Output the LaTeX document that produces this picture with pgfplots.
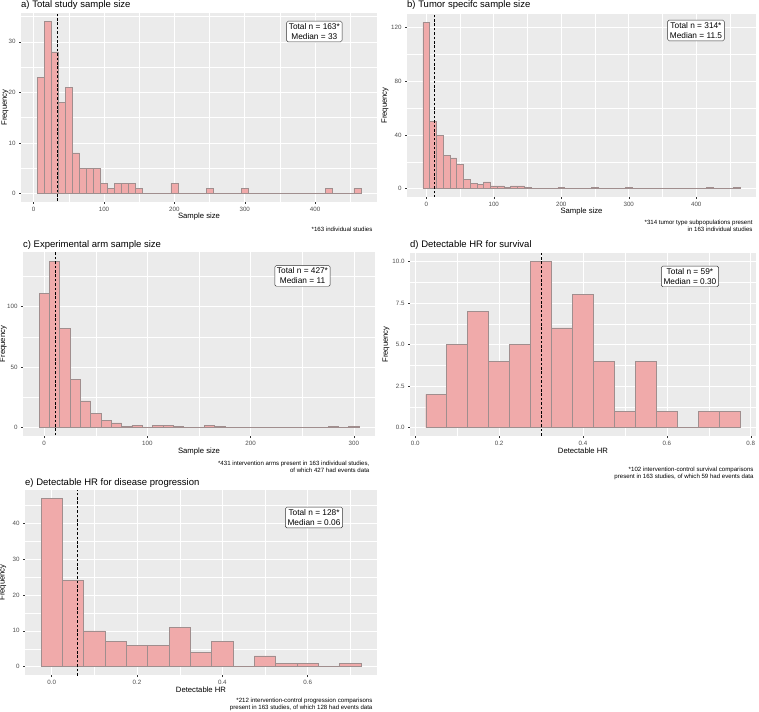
\documentclass[border=0pt]{standalone}
\usepackage{fontspec}
\setmainfont{Liberation Sans}
\usepackage{pgfplots}
\pgfplotsset{compat=1.18}
\definecolor{ggbg}{HTML}{EBEBEB}
\definecolor{ggfill}{HTML}{F0AAAA}
\definecolor{ggline}{HTML}{A08E8E}
\definecolor{ggtick}{HTML}{333333}
\definecolor{ggtext}{HTML}{4D4D4D}
\tikzset{
  boxlab/.style={draw=ggtick, fill=white, rounded corners=1.5pt, line width=0.45pt,
    align=center, font=\fontsize{8.3}{10.2}\selectfont, inner sep=2.2pt},
  foot/.style={align=right, anchor=east, font=\fontsize{6.1}{7.1}\selectfont},
}
\pgfplotsset{
  ggp/.style={
    scale only axis, anchor=south west,
    axis background/.style={fill=ggbg},
    axis line style={draw=none},
    xmajorgrids, ymajorgrids, xminorgrids, yminorgrids,
    major grid style={white, line width=0.6pt},
    minor grid style={white, line width=0.3pt},
    tick align=outside, major tick length=2pt, minor tick length=0pt,
    tick style={color=ggtick, line width=0.4pt},
    xtick pos=left, ytick pos=left,
    ticklabel style={font=\fontsize{6.2}{7}\selectfont, text=ggtext},
    /pgf/number format/assume math mode=true,
    label style={font=\fontsize{7.7}{9}\selectfont},
    every axis title shift=0pt,
    title style={font=\fontsize{9.5}{11}\selectfont, anchor=west, inner xsep=0pt},
    xlabel style={anchor=center},
    ylabel style={anchor=center},
  },
  hbar/.style={ybar interval, fill=ggfill, draw=ggline, line width=0.45pt},
  med/.style={black, line width=0.55pt, dash pattern=on 2.6pt off 1.8pt},
}
\begin{document}
\begin{tikzpicture}
\path[use as bounding box] (0pt,0pt) rectangle (759pt,-711pt);

% a)
\begin{axis}[ggp, at={(21pt,-202pt)}, width=356pt, height=189pt,
  xmin=-18, xmax=488, ymin=-1.7, ymax=35.7,
  xtick={0,100,200,300,400}, minor xtick={50,150,250,350,450},
  ytick={0,10,20,30}, minor ytick={5,15,25,35},
  title={a) Total study sample size},
  title style={at={(axis description cs:0,1.042)}},
  xlabel={Sample size}, xlabel style={at={(axis description cs:0.5,-0.079)}},
  ylabel={Frequency}, ylabel style={at={(axis description cs:-0.045,0.5)}},
  extra description/.code={
    \node[boxlab] at (0.824,0.902) {Total n = 163*\\Median = 33};
    \node[foot] at (0.997,-0.143) {*163 individual studies};
  }]
\addplot[hbar] coordinates {(5,23)(15,34)(25,28)(35,18)(45,21)(55,8)(65,5)(75,5)(85,5)(95,2)(105,1)(115,2)(125,2)(135,2)(145,1)(155,0)(165,0)(175,0)(185,0)(195,2)(205,0)(215,0)(225,0)(235,0)(245,1)(255,0)(265,0)(275,0)(285,0)(295,1)(305,0)(315,0)(325,0)(335,0)(345,0)(355,0)(365,0)(375,0)(385,0)(395,0)(405,0)(415,1)(425,0)(435,0)(445,0)(455,1)(465,0)};
\addplot[med] coordinates {(33,-5)(33,40)};
\end{axis}

% b)
\begin{axis}[ggp, at={(407pt,-197pt)}, width=349pt, height=183pt,
  xmin=-28.5, xmax=488.5, ymin=-6.2, ymax=130.2,
  xtick={0,100,200,300,400}, minor xtick={50,150,250,350,450},
  ytick={0,40,80,120}, minor ytick={20,60,100},
  title={b) Tumor specifc sample size},
  title style={at={(axis description cs:0,1.049)}},
  xlabel={Sample size}, xlabel style={at={(axis description cs:0.5,-0.082)}},
  ylabel={Frequency}, ylabel style={at={(axis description cs:-0.063,0.5)}},
  extra description/.code={
    \node[boxlab] at (0.828,0.91) {Total n = 314*\\Median = 11.5};
    \node[foot] at (1.0,-0.156) {*314 tumor type subpopulations present\\in 163 individual studies};
  }]
\addplot[hbar] coordinates {(-5,124)(5,50)(15,40)(25,25)(35,23)(45,18)(55,7)(65,4)(75,3)(85,5)(95,2)(105,2)(115,1)(125,2)(135,2)(145,1)(155,0)(165,0)(175,0)(185,0)(195,1)(205,0)(215,0)(225,0)(235,0)(245,1)(255,0)(265,0)(275,0)(285,0)(295,1)(305,0)(315,0)(325,0)(335,0)(345,0)(355,0)(365,0)(375,0)(385,0)(395,0)(405,0)(415,1)(425,0)(435,0)(445,0)(455,1)(465,0)};
\addplot[med] coordinates {(11.5,-10)(11.5,140)};
\end{axis}

% c)
\begin{axis}[ggp, at={(23pt,-436pt)}, width=352pt, height=184pt,
  xmin=-20.5, xmax=320.5, ymin=-6.9, ymax=144.9,
  xtick={0,100,200,300}, minor xtick={50,150,250},
  ytick={0,50,100}, minor ytick={25,75,125},
  title={c) Experimental arm sample size},
  title style={at={(axis description cs:0,1.038)}},
  xlabel={Sample size}, xlabel style={at={(axis description cs:0.5,-0.082)}},
  ylabel={Frequency}, ylabel style={at={(axis description cs:-0.056,0.5)}},
  extra description/.code={
    \node[boxlab] at (0.794,0.87) {Total n = 427*\\Median = 11};
    \node[foot] at (0.994,-0.166) {*431 intervention arms present in 163 individual studies,\\of which 427 had events data};
  }]
\addplot[hbar] coordinates {(-5,111)(5,137)(15,82)(25,40)(35,22)(45,12)(55,6)(65,4)(75,1)(85,2)(95,0)(105,2)(115,2)(125,1)(135,0)(145,0)(155,2)(165,1)(175,0)(185,0)(195,0)(205,0)(215,0)(225,0)(235,0)(245,0)(255,0)(265,0)(275,1)(285,0)(295,1)(305,0)};
\addplot[med] coordinates {(11,-10)(11,150)};
\end{axis}

% d)
\begin{axis}[ggp, at={(410pt,-436pt)}, width=346pt, height=183pt,
  xmin=-0.0125, xmax=0.8125, ymin=-0.5, ymax=10.5,
  xtick={0,0.2,0.4,0.6,0.8}, minor xtick={0.1,0.3,0.5,0.7},
  ytick={0,2.5,5,7.5,10}, minor ytick={1.25,3.75,6.25,8.75},
  xticklabel style={/pgf/number format/.cd, fixed, fixed zerofill, precision=1},
  yticklabel style={/pgf/number format/.cd, fixed, fixed zerofill, precision=1},
  title={d) Detectable HR for survival},
  title style={at={(axis description cs:0,1.044)}},
  xlabel={Detectable HR}, xlabel style={at={(axis description cs:0.5,-0.082)}},
  ylabel={Frequency}, ylabel style={at={(axis description cs:-0.069,0.5)}},
  extra description/.code={
    \node[boxlab] at (0.809,0.872) {Total n = 59*\\Median = 0.30};
    \node[foot] at (1.003,-0.205) {*102 intervention-control survival comparisons\\present in 163 studies, of which 59 had events data};
  }]
\addplot[hbar] coordinates {(0.025,2)(0.075,5)(0.125,7)(0.175,4)(0.225,5)(0.275,10)(0.325,6)(0.375,8)(0.425,4)(0.475,1)(0.525,4)(0.575,1)(0.625,0)(0.675,1)(0.725,1)(0.775,0)};
\addplot[med] coordinates {(0.30,-1)(0.30,11)};
\end{axis}

% e)
\begin{axis}[ggp, at={(25pt,-675pt)}, width=352pt, height=185pt,
  xmin=-0.0625, xmax=0.7625, ymin=-2.35, ymax=49.35,
  xtick={0,0.2,0.4,0.6}, minor xtick={0.1,0.3,0.5,0.7},
  ytick={0,10,20,30,40}, minor ytick={5,15,25,35,45},
  xticklabel style={/pgf/number format/.cd, fixed, fixed zerofill, precision=1},
  title={e) Detectable HR for disease progression},
  title style={at={(axis description cs:0,1.038)}},
  xlabel={Detectable HR}, xlabel style={at={(axis description cs:0.5,-0.081)}},
  ylabel={Frequency}, ylabel style={at={(axis description cs:-0.063,0.5)}},
  extra description/.code={
    \node[boxlab] at (0.821,0.851) {Total n = 128*\\Median = 0.06};
    \node[foot] at (0.997,-0.157) {*212 intervention-control progression comparisons\\present in 163 studies, of which 128 had events data};
  }]
\addplot[hbar] coordinates {(-0.025,47)(0.025,24)(0.075,10)(0.125,7)(0.175,6)(0.225,6)(0.275,11)(0.325,4)(0.375,7)(0.425,0)(0.475,3)(0.525,1)(0.575,1)(0.625,0)(0.675,1)(0.725,0)};
\addplot[med] coordinates {(0.06,-5)(0.06,55)};
\end{axis}
\end{tikzpicture}
\end{document}
